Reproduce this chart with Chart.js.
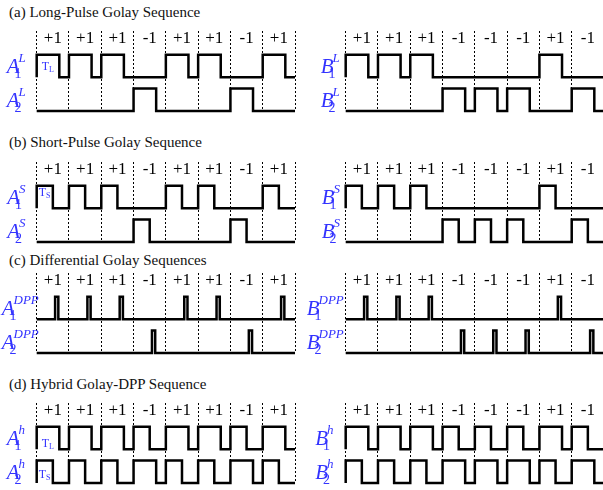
<!DOCTYPE html>
<html><head><meta charset="utf-8">
<script src="https://cdn.jsdelivr.net/npm/chart.js@4"></script>
<style>
html,body{margin:0;padding:0;background:#fff;overflow:hidden;}
#wrap{position:relative;width:603px;height:490px;overflow:hidden;background:#fff;}
#wrap canvas{position:absolute;}
.title{position:absolute;left:9px;font-family:"Liberation Serif";font-size:15px;color:#111;white-space:nowrap;line-height:15px;}
</style></head><body><div id="wrap"></div>
<script>
// ---------------- data ----------------
const codeA = [1, 1, 1, -1, 1, 1, -1, 1];
const codeB = [1, 1, 1, -1, -1, -1, 1, -1];
const tickLabelsA = ['+1', '+1', '+1', '-1', '+1', '+1', '-1', '+1'];
const tickLabelsB = ['+1', '+1', '+1', '-1', '-1', '-1', '+1', '-1'];
const sectionTitles = ['(a) Long-Pulse Golay Sequence', '(b) Short-Pulse Golay Sequence',
                       '(c) Differential Golay Sequences', '(d) Hybrid Golay-DPP Sequence'];
const superscripts = ['L', 'S', 'DPP', 'h'];
const pulseLong = [0, 0.7];     // T_L as fraction of one bit
const pulseShort = [0, 0.5];    // T_S
const pulseDPP = [0.57, 0.67];  // narrow differential pulse
// --------------------------------------

const BLUE = '#3333ff';
const LOW1 = 1.5, LOW2 = 0, LABEL_Y = 3.2;
const FONT = '"Liberation Serif"';

function wave(codes, pulseFor, low) {
  const pts = [{x: 0, y: low}];
  codes.forEach((c, i) => {
    const p = pulseFor(c);
    if (p) {
      pts.push({x: i + p[0], y: low}, {x: i + p[0], y: low + 1},
               {x: i + p[1], y: low + 1}, {x: i + p[1], y: low});
    }
  });
  pts.push({x: codes.length, y: low});
  return pts;
}

const sections = [
  {base: 111, titleY: 5, w1: c => c > 0 ? pulseLong : null, w2: c => c < 0 ? pulseLong : null,
   tLabels: [{sub: 'L', y: 1.82, dx: 5}], offA: 30, offB: 25},
  {base: 242, titleY: 135, w1: c => c > 0 ? pulseShort : null, w2: c => c < 0 ? pulseShort : null,
   tLabels: [{sub: 'S', y: 2.06, dx: 2}], offA: 29.5, offB: 24},
  {base: 353, titleY: 253, w1: c => c > 0 ? pulseDPP : null, w2: c => c < 0 ? pulseDPP : null,
   tLabels: [], offA: 35, offB: 39},
  {base: 483, titleY: 377, w1: c => c > 0 ? pulseLong : pulseShort, w2: c => c > 0 ? pulseShort : pulseLong,
   tLabels: [{sub: 'L', y: 1.6, dx: 5}, {sub: 'S', y: 0.2, dx: 2}], offA: 30, offB: 30.5},
];

const waveLabels = {
  id: 'waveLabels',
  afterDatasetsDraw(chart) {
    const o = chart.options.plugins.waveLabels;
    const {ctx, chartArea} = chart;
    const xs = chart.scales.x, ys = chart.scales.y;
    ctx.save();
    ctx.fillStyle = '#000';
    ctx.font = '17px ' + FONT;
    ctx.textAlign = 'center';
    ctx.textBaseline = 'middle';
    o.ticks.forEach((t, i) => ctx.fillText(t, xs.getPixelForValue(i + 0.5), ys.getPixelForValue(LABEL_Y)));
    ctx.fillStyle = BLUE;
    ctx.textAlign = 'left';
    ctx.textBaseline = 'alphabetic';
    [[1, LOW1], [2, LOW2]].forEach(([n, low]) => {
      const x0 = chartArea.left - o.nameOffset;
      const yb = ys.getPixelForValue(low) - 4;
      ctx.font = 'italic 21px ' + FONT;
      ctx.fillText(o.letter, x0, yb);
      const w = ctx.measureText(o.letter).width;
      ctx.font = '14px ' + FONT;
      ctx.fillText(String(n), x0 + w - 5, yb + 5);
      ctx.font = 'italic 13px ' + FONT;
      ctx.fillText(o.sup, x0 + w - 1, yb - 11);
    });
    o.tLabels.forEach(t => {
      const x0 = chartArea.left + t.dx;
      const yb = ys.getPixelForValue(t.y);
      ctx.font = '12px ' + FONT;
      ctx.fillText('T', x0, yb);
      const w = ctx.measureText('T').width;
      ctx.font = '8px ' + FONT;
      ctx.fillText(t.sub, x0 + w, yb + 2);
    });
    ctx.restore();
  }
};

const wrap = document.getElementById('wrap');

function panel(sec, idx, side) {
  const codes = side === 'A' ? codeA : codeB;
  const ticks = side === 'A' ? tickLabelsA : tickLabelsB;
  const cv = document.createElement('canvas');
  const left = side === 'A' ? 0 : 300;
  const width = side === 'A' ? 300 : 310;
  const padL = side === 'A' ? 36.7 : 45.7;
  const padR = width - padL - 258.3;
  cv.width = width; cv.height = 90;
  cv.style.left = left + 'px';
  cv.style.top = (sec.base - 84) + 'px';
  wrap.appendChild(cv);
  new Chart(cv, {
    type: 'line',
    data: {
      datasets: [
        {data: wave(codes, sec.w1, LOW1)},
        {data: wave(codes, sec.w2, LOW2)},
      ]
    },
    options: {
      responsive: false,
      animation: false,
      events: [],
      layout: {padding: {left: padL, right: padR, top: 4, bottom: 6}},
      elements: {
        line: {borderColor: '#000', borderWidth: 2.5, tension: 0, fill: false, borderJoinStyle: 'miter', borderCapStyle: 'butt'},
        point: {radius: 0}
      },
      datasets: {line: {clip: false}},
      plugins: {
        legend: {display: false}, tooltip: {enabled: false}, title: {display: false},
        waveLabels: {ticks, letter: side, sup: superscripts[idx], nameOffset: side === 'A' ? sec.offA : sec.offB,
                     tLabels: side === 'A' ? sec.tLabels : []}
      },
      scales: {
        x: {type: 'linear', min: 0, max: 8,
            ticks: {display: false, stepSize: 1},
            grid: {display: true, color: '#000', lineWidth: 1, drawTicks: false},
            border: {display: false, dash: [2, 2]}},
        y: {type: 'linear', min: 0, max: 3.55, display: false}
      }
    },
    plugins: [waveLabels]
  });
}

sections.forEach((sec, i) => {
  const t = document.createElement('div');
  t.className = 'title';
  t.style.top = sec.titleY + 'px';
  t.textContent = sectionTitles[i];
  wrap.appendChild(t);
  panel(sec, i, 'A');
  panel(sec, i, 'B');
});
</script>
</body></html>
